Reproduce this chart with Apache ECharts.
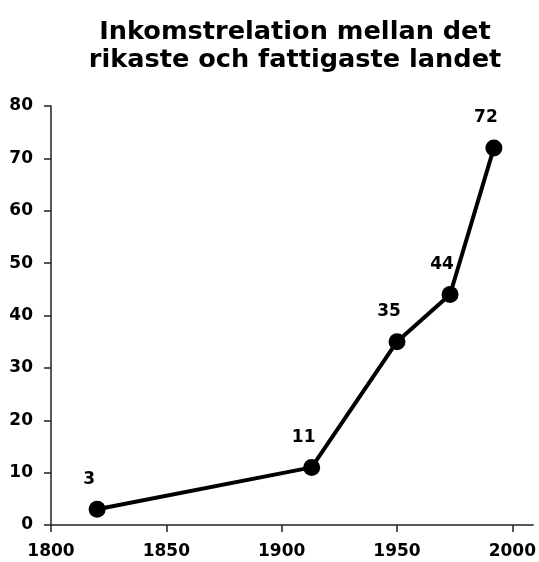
<!DOCTYPE html>
<html>
<head>
<meta charset="utf-8">
<script src="https://cdn.jsdelivr.net/npm/echarts@6/dist/echarts.min.js"></script>
<style>
html,body{margin:0;padding:0;background:#fff;}
#chart{width:539px;height:562px;}
</style>
</head>
<body>
<div id="chart"></div>
<script>
var titleText = 'Inkomstrelation mellan det\nrikaste och fattigaste landet';
var years = [1820, 1913, 1950, 1973, 1992];
var ratios = [3, 11, 35, 44, 72];
var xTicks = [1800, 1850, 1900, 1950, 2000];
var yTicks = [0, 10, 20, 30, 40, 50, 60, 70, 80];

var FONT = '"DejaVu Sans", Verdana, sans-serif';
var chart = echarts.init(document.getElementById('chart'), null, {renderer: 'canvas'});
var points = years.map(function (y, i) { return [y, ratios[i]]; });

chart.setOption({
  backgroundColor: '#ffffff',
  animation: false,
  title: {
    text: titleText,
    left: 290,
    top: 13,
    textAlign: 'center',
    textStyle: {
      fontFamily: FONT,
      fontWeight: 'bold',
      fontSize: 25.6,
      lineHeight: 28,
      color: '#000'
    }
  },
  grid: {left: 51, right: 1, top: 106, bottom: 37, containLabel: false},
  xAxis: {
    type: 'value',
    min: 1800,
    max: 2009,
    splitLine: {show: false},
    axisLine: {show: true, onZero: false, lineStyle: {color: '#222', width: 1.5}},
    axisTick: {show: true, length: 7, customValues: xTicks, lineStyle: {color: '#222', width: 1.5}},
    axisLabel: {
      customValues: xTicks,
      formatter: function (v) { return String(v); },
      margin: 18,
      fontFamily: FONT,
      fontWeight: 'bold',
      fontSize: 17,
      color: '#000'
    }
  },
  yAxis: {
    type: 'value',
    min: 0,
    max: 80,
    interval: 10,
    splitLine: {show: false},
    axisLine: {show: true, lineStyle: {color: '#222', width: 1.5}},
    axisTick: {show: true, length: 7, customValues: yTicks, lineStyle: {color: '#222', width: 1.5}},
    axisLabel: {
      customValues: yTicks,
      margin: 18,
      fontFamily: FONT,
      fontWeight: 'bold',
      fontSize: 17,
      color: '#000'
    }
  },
  series: [{
    type: 'line',
    data: points,
    symbol: 'circle',
    symbolSize: 17,
    itemStyle: {color: '#000'},
    lineStyle: {color: '#000', width: 4},
    label: {
      show: true,
      position: 'top',
      distance: 13,
      offset: [-8, 0],
      formatter: function (p) { return p.value[1]; },
      fontFamily: FONT,
      fontWeight: 'bold',
      fontSize: 17,
      color: '#000'
    }
  }]
});
</script>
</body>
</html>
